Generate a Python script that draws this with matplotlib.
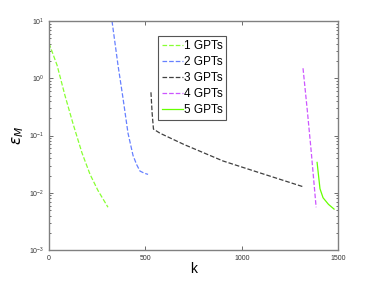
import matplotlib
matplotlib.use("Agg")
import matplotlib.pyplot as plt
import numpy as np

plt.rcParams['font.family'] = ['Liberation Sans', 'DejaVu Sans']

k1 = [0, 42, 83, 125, 171, 213, 254, 306]
e1 = [4.1, 1.69, 0.50, 0.16, 0.050, 0.021, 0.011, 0.0056]

k2 = [327, 358, 384, 410, 436, 455, 472, 495, 514]
e2 = [10.0, 1.7, 0.45, 0.11, 0.045, 0.031, 0.024, 0.022, 0.021]

k3 = [529, 535, 542, 576, 700, 903, 1100, 1318]
e3 = [0.57, 0.25, 0.13, 0.11, 0.07, 0.036, 0.022, 0.0128]

k4 = [1318, 1340, 1360, 1386]
e4 = [1.5, 0.28, 0.055, 0.0056]

k5 = [1391, 1406, 1422, 1450, 1479]
e5 = [0.034, 0.0118, 0.0082, 0.0063, 0.0052]

labels = ['1 GPTs', '2 GPTs', '3 GPTs', '4 GPTs', '5 GPTs']

fig = plt.figure(figsize=(3.74, 2.81), dpi=100)
ax = fig.add_axes([0.131, 0.110, 0.773, 0.815])

ax.plot(k1, e1, '--', color='#88ff33', lw=0.9, label=labels[0])
ax.plot(k2, e2, '--', color='#6680ff', lw=0.9, label=labels[1])
ax.plot(k3, e3, '--', color='#404040', lw=0.9, label=labels[2])
ax.plot(k4, e4, '--', color='#cc55ff', lw=0.9, label=labels[3])
ax.plot(k5, e5, '-', color='#66ff00', lw=0.9, label=labels[4])

ax.set_yscale('log')
ax.set_xlim(0, 1500)
ax.set_ylim(1e-3, 1e1)
ax.set_xticks([0, 500, 1000, 1500])
ax.set_xticklabels(['0', '500', '1000', '1500'])
ax.tick_params(which='both', direction='in', top=True, right=True,
               labelsize=5, colors='#333333', width=0.5)
ax.tick_params(which='major', length=3)
ax.tick_params(which='minor', length=1.5)
for s in ax.spines.values():
    s.set_color('#808080')
    s.set_linewidth(1.0)

ax.set_xlabel('k', fontsize=10, labelpad=0)
ax.set_ylabel(r'$\epsilon_M$', fontsize=11, labelpad=2)

leg = ax.legend(loc='upper left', bbox_to_anchor=(0.377, 0.934), borderaxespad=0,
                fontsize=8.5, handlelength=1.8, handletextpad=0.1,
                labelspacing=0.35, borderpad=0.3, fancybox=False, framealpha=1)
leg.get_frame().set_edgecolor('#555555')
leg.get_frame().set_linewidth(0.8)

fig.savefig('out.png', dpi=100)
